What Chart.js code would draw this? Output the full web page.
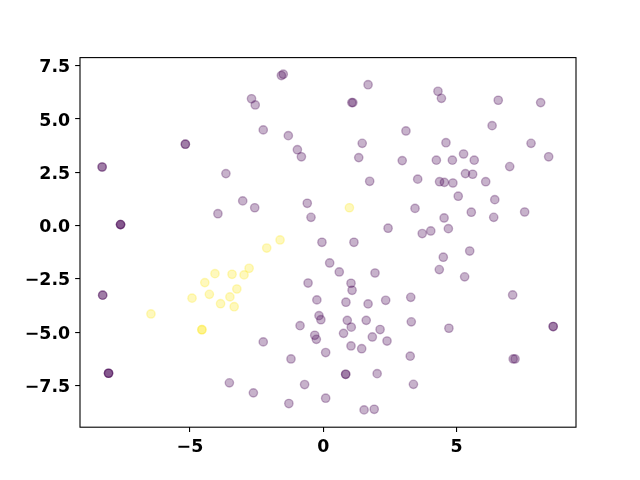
<!DOCTYPE html>
<html>
<head>
<meta charset="utf-8">
<script src="https://cdn.jsdelivr.net/npm/chart.js@4/dist/chart.umd.min.js"></script>
<style>
html,body{margin:0;padding:0;background:#fff;}
#wrap{width:640px;height:480px;}
</style>
</head>
<body>
<div id="wrap"><canvas id="c" width="640" height="480"></canvas></div>
<script>
// ---- data ----
const purpleX = [
  -5.17,-5.17,-8.29,-8.29,-3.65,-3.02,-3.95,-7.60,-7.60,-7.60,
  -1.57,-1.50,1.68,-2.69,-2.55,1.07,1.11,-2.25,-1.31,3.10,1.46,-0.97,-0.82,1.33,2.96,1.74,-2.57,-0.60,-0.46,2.43,-0.05,1.15,
  4.30,4.43,6.56,8.15,6.33,4.60,7.79,5.26,8.45,4.24,4.84,5.66,6.99,5.33,5.60,3.54,4.36,4.54,4.86,6.09,5.06,6.43,3.44,5.55,6.39,7.55,4.53,4.69,4.03,3.71,
  -8.27,-8.27,-8.05,-8.05,-8.05,-3.52,
  0.24,0.60,1.94,-0.57,1.04,1.08,-0.24,0.85,1.68,2.34,3.28,-0.16,-0.09,-0.87,0.90,1.61,1.05,0.76,2.13,-0.32,-0.26,1.84,2.39,1.04,1.44,3.30,-2.25,0.09,-1.21,3.26,0.84,0.84,2.02,-0.70,3.38,-2.62,-1.29,0.09,1.53,1.91,
  5.49,4.50,4.35,5.30,7.10,4.71,8.62,8.62,7.12,7.19
];
const purpleY = [
  3.82,3.82,2.75,2.75,2.44,1.16,0.56,0.05,0.05,0.05,
  7.04,7.10,6.61,5.95,5.66,5.77,5.77,4.49,4.22,4.44,3.86,3.56,3.23,3.19,3.05,2.08,0.84,1.05,0.39,-0.12,-0.78,-0.78,
  6.30,5.97,5.88,5.77,4.69,3.89,3.86,3.36,3.23,3.07,3.07,3.07,2.77,2.44,2.41,2.18,2.06,2.03,2.00,2.06,1.38,1.22,0.81,0.63,0.39,0.64,0.36,-0.14,-0.25,-0.37,
  -3.26,-3.26,-6.92,-6.92,-6.92,-7.37,
  -1.75,-2.17,-2.22,-2.69,-2.70,-3.03,-3.48,-3.59,-3.67,-3.50,-3.36,-4.22,-4.41,-4.69,-4.44,-4.44,-4.76,-5.05,-4.87,-5.14,-5.33,-5.22,-5.41,-5.64,-5.77,-4.51,-5.45,-5.95,-6.25,-6.12,-6.97,-6.97,-6.94,-7.45,-7.44,-7.84,-8.34,-8.09,-8.64,-8.61,
  -1.19,-1.48,-2.06,-2.40,-3.25,-4.81,-4.73,-4.73,-6.25,-6.25
];
const yellowX = [-2.78,-4.06,-3.42,-2.97,-4.44,-3.24,-4.27,-4.92,-3.50,-3.85,-3.34,-6.46,-4.55,-4.55,0.98,-1.62,-2.12];
const yellowY = [-2.00,-2.25,-2.28,-2.31,-2.67,-2.97,-3.22,-3.40,-3.34,-3.66,-3.80,-4.14,-4.88,-4.88,0.84,-0.67,-1.05];
const xTicks = [-5, 0, 5];
const yTicks = [-7.5, -5.0, -2.5, 0.0, 2.5, 5.0, 7.5];
const xRange = [-9.12, 9.475];
const yRange = [-9.45, 7.88];

// ---- chart ----
const toPts = (xs, ys) => xs.map((x, i) => ({x: x, y: ys[i]}));
const minus = s => s.replace('-', '\u2212');
const tickFont = {family: "'DejaVu Sans', sans-serif", size: 17.4, weight: 'bold'};
const PURPLE = 'rgba(68,1,84,0.3)';
const YELLOW = 'rgba(253,231,37,0.3)';

const framePlugin = {
  id: 'frame',
  afterDraw(chart) {
    const a = chart.chartArea, ctx = chart.ctx;
    ctx.save();
    ctx.strokeStyle = '#000';
    ctx.lineWidth = 1.1;
    ctx.strokeRect(a.left, a.top, a.right - a.left, a.bottom - a.top);
    ctx.restore();
  }
};

new Chart(document.getElementById('c'), {
  type: 'scatter',
  data: {
    datasets: [
      {data: toPts(purpleX, purpleY), backgroundColor: PURPLE, borderColor: PURPLE, borderWidth: 1.39, pointRadius: 4.17, pointHoverRadius: 4.17},
      {data: toPts(yellowX, yellowY), backgroundColor: YELLOW, borderColor: YELLOW, borderWidth: 1.39, pointRadius: 4.17, pointHoverRadius: 4.17}
    ]
  },
  options: {
    responsive: false,
    animation: false,
    events: [],
    layout: {padding: {left: 0, top: 57.6, right: 64, bottom: 0}},
    plugins: {legend: {display: false}, tooltip: {enabled: false}},
    scales: {
      x: {
        type: 'linear', min: xRange[0], max: xRange[1],
        border: {display: false},
        grid: {drawOnChartArea: false, drawTicks: true, tickLength: 4.86, color: '#000', lineWidth: 1.1},
        ticks: {color: '#000', font: tickFont, padding: 5, maxRotation: 0,
          callback: v => minus(String(v))},
        afterBuildTicks: s => { s.ticks = xTicks.map(v => ({value: v})); },
        afterFit: s => { s.height = 52.8; }
      },
      y: {
        type: 'linear', min: yRange[0], max: yRange[1],
        border: {display: false},
        grid: {drawOnChartArea: false, drawTicks: true, tickLength: 4.86, color: '#000', lineWidth: 1.1},
        ticks: {color: '#000', font: tickFont, padding: 5, labelOffset: 2,
          callback: v => minus(Number(v).toFixed(1))},
        afterBuildTicks: s => { s.ticks = yTicks.map(v => ({value: v})); },
        afterFit: s => { s.width = 80; }
      }
    }
  },
  plugins: [framePlugin]
});
</script>
</body>
</html>
